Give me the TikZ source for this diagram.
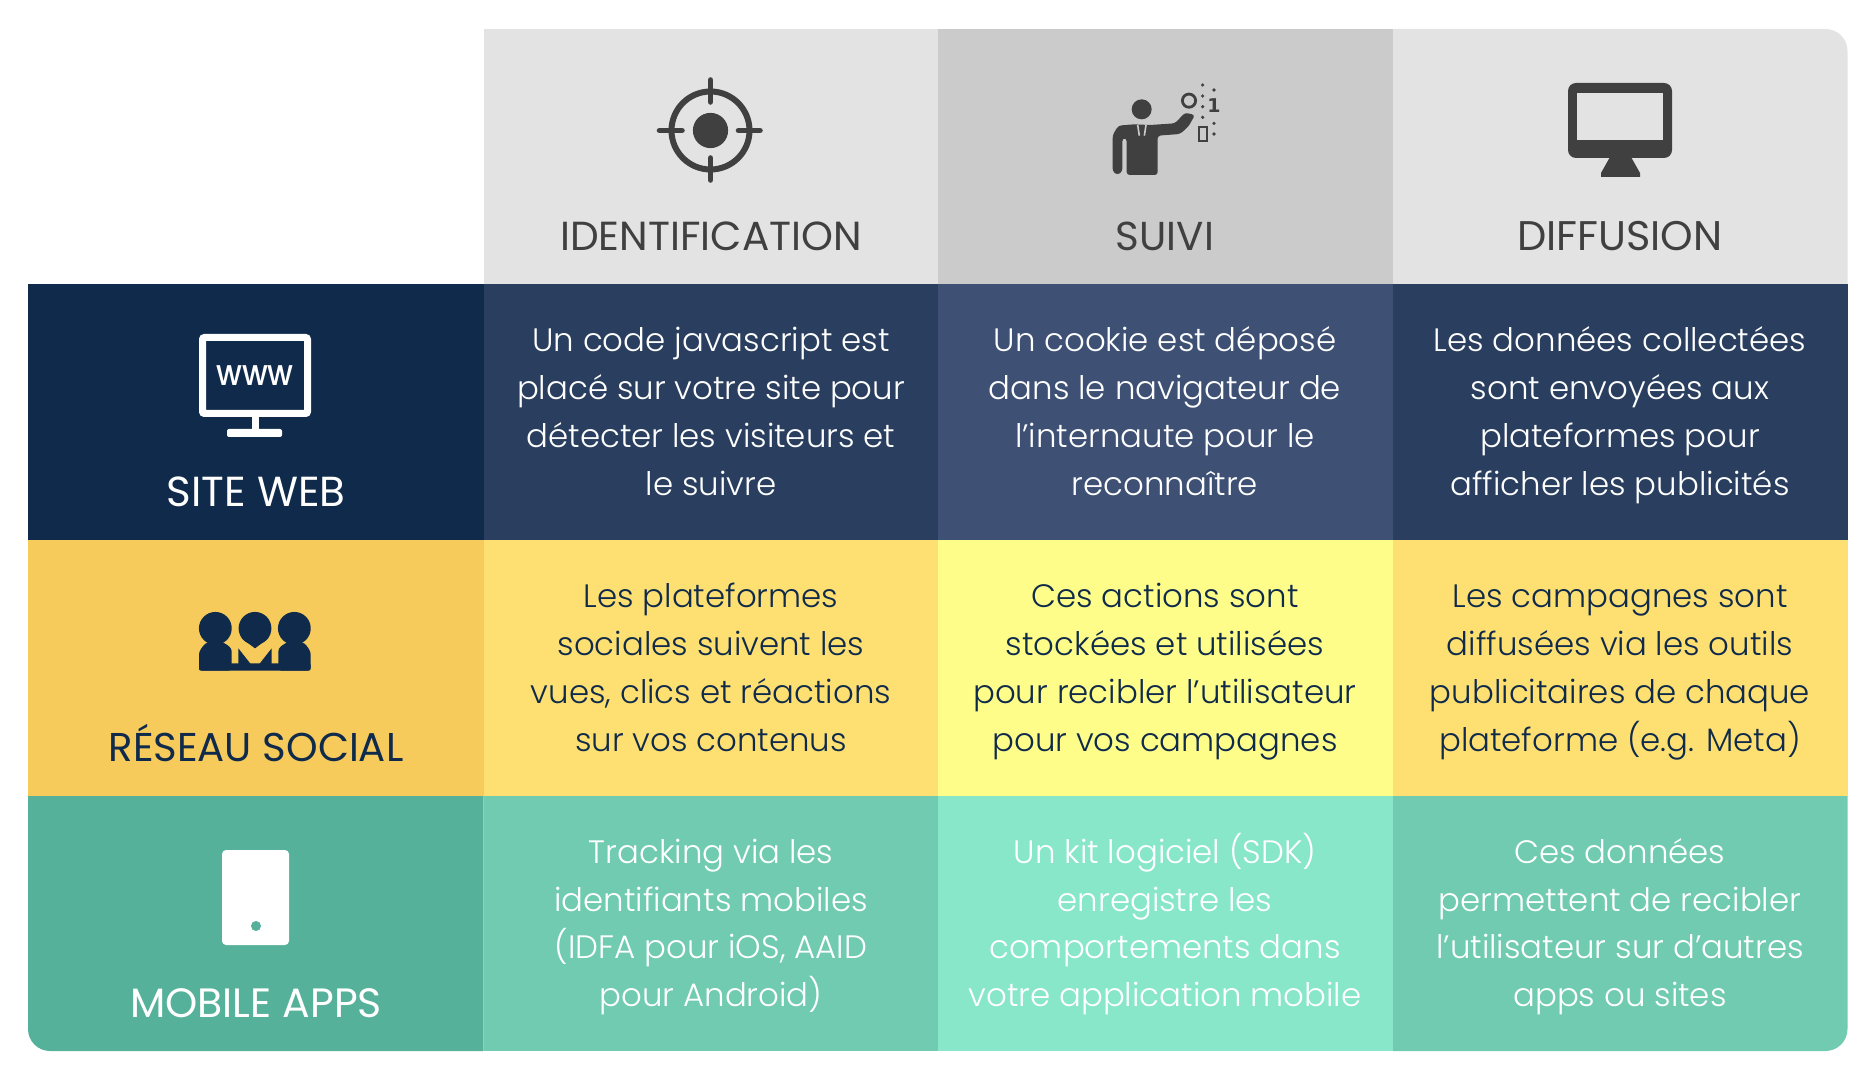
\documentclass[tikz,border=0pt]{standalone}
\usepackage{fontspec}
\usepackage{graphicx}
\setmainfont{Poppins Light}
\newfontfamily\headfont{Poppins}
\newfontfamily\medfont{Poppins Medium}
\newfontfamily\bitfont{DejaVu Sans}
\usetikzlibrary{calc}
\definecolor{navyA}{HTML}{0F2A4A}
\definecolor{navyB}{HTML}{2A3F5F}
\definecolor{navyC}{HTML}{3E5175}
\definecolor{yelA}{HTML}{F6CB5C}
\definecolor{yelB}{HTML}{FEE072}
\definecolor{yelC}{HTML}{FFFD8A}
\definecolor{teaA}{HTML}{56B19A}
\definecolor{teaB}{HTML}{70CBB0}
\definecolor{teaC}{HTML}{88E6C9}
\definecolor{hdA}{HTML}{E3E3E3}
\definecolor{hdB}{HTML}{CBCBCB}
\definecolor{ink}{HTML}{404040}
\newcommand\cstrut{\rule[-7.5pt]{0pt}{26.5pt}}
\tikzset{
 x=0.5pt,y=-0.5pt,
 celltext/.style={align=center,font=\fontsize{16.2}{23.9}\selectfont,inner sep=0,anchor=center},
 headlabel/.style={font=\headfont\fontsize{#1}{24}\selectfont,text=ink,inner sep=0,anchor=base},
 rowlabel/.style={font=\headfont\fontsize{#1}{24}\selectfont,inner sep=0,anchor=base},
}
\begin{document}
\begin{tikzpicture}
\useasboundingbox (0,0) rectangle (1876,1080);
% header
\fill[hdA] (483.5,29) rectangle (938,284);
\fill[hdB] (938,29) rectangle (1393,284);
\fill[hdA] (1393,29) [rounded corners=11pt] -- (1847.5,29) [sharp corners] -- (1847.5,284) -- (1393,284) -- cycle;
% row 1
\fill[navyA] (28,284) rectangle (483.5,540);
\fill[navyB] (483.5,284) rectangle (938,540);
\fill[navyC] (938,284) rectangle (1393,540);
\fill[navyB] (1393,284) rectangle (1847.5,540);
% row 2
\fill[yelA] (28,540) rectangle (483.5,796);
\fill[yelB] (483.5,540) rectangle (938,796);
\fill[yelC] (938,540) rectangle (1393,796);
\fill[yelB] (1393,540) rectangle (1847.5,796);
% row 3
\fill[teaA] (28,796) [rounded corners=11pt] -- (28,1051) [sharp corners] -- (483.5,1051) -- (483.5,796) -- cycle;
\fill[teaB] (483.5,796) rectangle (938,1051);
\fill[teaC] (938,796) rectangle (1393,1051);
\fill[teaB] (1393,796) [sharp corners] -- (1393,1051) [rounded corners=11pt] -- (1847.5,1051) [sharp corners] -- (1847.5,796) -- cycle;

% header labels
\node[headlabel=20.3] (h1) at (711,250.5) {IDENTIFICATION};
\node[headlabel=20.2] (h2) at (1165,250.5) {SUIVI};
\node[headlabel=20.7] (h3) at (1620,250.5) {DIFFUSION};
\node[rowlabel=21,text=white] (r1) at (256,507) {SITE WEB};
\node[rowlabel=20.1,text=navyA] (r2) at (256,762) {RÉSEAU SOCIAL};
\node[rowlabel=20.5,text=white] (r3) at (256,1017) {MOBILE APPS};

% cell text
\foreach \nm/\x/\y/\col/\txt in {
c11/711/412/white/{Un code javascript est\\placé sur votre site pour\\détecter les visiteurs et\\le suivre},
c12/1165/412/white/{Un cookie est déposé\\dans le navigateur de\\l’internaute pour le\\reconnaître},
c13/1620/412/white/{Les données collectées\\sont envoyées aux\\plateformes pour\\afficher les publicités},
c21/711/668/navyA/{Les plateformes\\sociales suivent les\\vues, clics et réactions\\sur vos contenus},
c22/1165/668/navyA/{Ces actions sont\\stockées et utilisées\\pour recibler l\symbol{39}utilisateur\\pour vos campagnes},
c23/1620/668/navyA/{Les campagnes sont\\diffusées via les outils\\publicitaires de chaque\\plateforme (e.g. Meta)},
c31/711/923.5/white/{Tracking via les\\identifiants mobiles\\(IDFA pour iOS, AAID\\pour Android)},
c32/1165/923.5/white/{Un kit logiciel (SDK)\\enregistre les\\comportements dans\\votre application mobile},
c33/1620/923.5/white/{Ces données\\permettent de recibler\\l’utilisateur sur d\symbol{39}autres\\apps ou sites}}
{\node[celltext,text=\col] (\nm) at (\x,\y) {\cstrut\txt\cstrut};}

% target icon
\draw[ink,line width=3pt] (710.5,130.5) circle (19.5pt);
\fill[ink] (710.5,130.5) circle (8.8pt);
\draw[ink,line width=2.8pt,line cap=round] (710.5,80)--(710.5,102) (710.5,158)--(710.5,180) (659.5,130.5)--(682,130.5) (738.5,130.5)--(760,130.5);

% analyst icon
\begin{scope}[shift={(1090,70)},x=0.16667pt,y=-0.16667pt]
\fill[ink] (155,118) circle (5pt);
\fill[ink,rounded corners=1.5pt] (68,305) -- (68,195) -- (85,167) -- (130,163) -- (180,165) -- (255,160) -- (285,128) -- (315,135) -- (295,170) -- (270,192) -- (203,197) -- (203,315) -- (110,315) -- (110,205) -- (97,205) -- (97,305) -- (82,315) -- cycle;
\draw[hdB,line width=0.8pt] (143,165)--(148,197) (168,165)--(163,197);
\draw[ink,line width=1.4pt] (297,92) circle (3.3pt);
\draw[ink,line width=0.9pt] (328,172) rectangle (352,213);
\node[font=\bitfont\bfseries\fontsize{9.5}{9.5}\selectfont,text=ink,inner sep=0] (bit) at (372,108) {1};
\foreach \dx/\dy in {338/45,338/78,338/110,338/142,372/60,372/160,372/192}
  \fill[ink] (\dx,\dy) circle (0.9pt);
\end{scope}

% monitor icon
\fill[ink,rounded corners=4pt] (1568,83) rectangle (1672,158);
\fill[hdA] (1577,93) rectangle (1663,140);
\fill[ink] (1610,157) -- (1631,157) -- (1640,173) -- (1640,177) -- (1601,177) -- (1601,173) -- cycle;

% www monitor
\draw[white,line width=3.5pt,rounded corners=1pt] (202.5,337.5) rectangle (307.5,413.5);
\node[font=\medfont\fontsize{18}{18}\selectfont,text=white,inner sep=0] (www) at (255,375.5) {\scalebox{0.87}[1]{www}};
\fill[white] (251.5,416) rectangle (258.5,430);
\fill[white,rounded corners=1pt] (227,429) rectangle (282,437);

% people icon
\begin{scope}[shift={(20,300)},x=0.16667pt,y=-0.16667pt]
\foreach \cx in {586,705,823}
  \fill[navyA] (\cx,985) circle (8.2pt);
\fill[navyA] (665,1015) -- (745,1015) -- (705,1045) -- cycle;
\fill[navyA,rounded corners=1.5pt] (537,1112) -- (537,1055) -- (555,1030) -- (590,1020) -- (615,1030) -- (635,1045) -- (635,1112) -- cycle;
\fill[navyA,rounded corners=1.5pt] (872,1112) -- (872,1055) -- (855,1030) -- (820,1020) -- (795,1030) -- (775,1045) -- (775,1112) -- cycle;
\fill[navyA,rounded corners=1pt] (537,1090) rectangle (872,1112);
\fill[navyA] (655,1045) -- (692,1092) -- (655,1092) -- cycle;
\fill[navyA] (755,1045) -- (718,1092) -- (755,1092) -- cycle;
\end{scope}

% phone
\fill[white,rounded corners=2pt] (222,850) rectangle (289,945);
\fill[teaA] (256,926) circle (2.5pt);
\end{tikzpicture}
\end{document}
